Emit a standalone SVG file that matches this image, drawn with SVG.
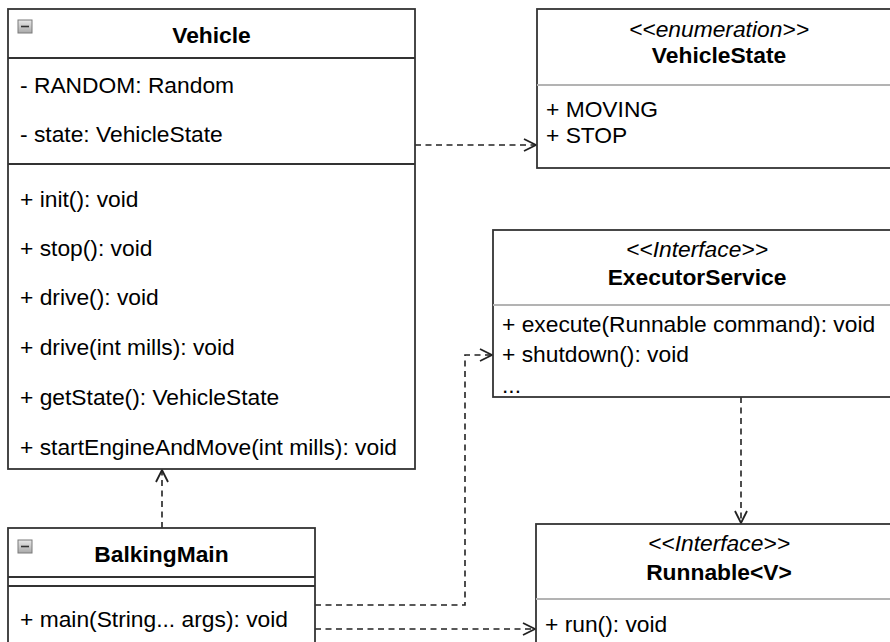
<svg xmlns="http://www.w3.org/2000/svg" xmlns:xlink="http://www.w3.org/1999/xlink" width="890" height="642" viewBox="0 0 890 642">
<defs>
<style>
.box{fill:#ffffff;stroke:#333333;stroke-width:1.8}
.sep{stroke:#333333;stroke-width:1.8}
.lsep{stroke:#b3b3b3;stroke-width:1.8}
.t{font-family:"Liberation Sans",Arial,Helvetica,sans-serif;font-size:22.8px;fill:#000000}
.b{font-weight:bold;text-anchor:middle}
.i{font-style:italic;text-anchor:middle}
.edge{fill:none;stroke:#222222;stroke-width:1.6;stroke-dasharray:6 4.5}
</style>
<linearGradient id="ig" x1="0" y1="0" x2="0" y2="1">
<stop offset="0" stop-color="#e8e8e8"/>
<stop offset="1" stop-color="#a9a9a9"/>
</linearGradient>
<marker id="open" viewBox="0 0 14 14" refX="13" refY="7" markerWidth="14" markerHeight="14" markerUnits="userSpaceOnUse" orient="auto">
<path d="M1,1 L13,7 L1,13" fill="none" stroke="#222222" stroke-width="1.8"/>
</marker>
<g id="icon">
<rect x="0" y="0" width="14" height="13" fill="url(#ig)" stroke="#7a7a7a" stroke-width="1"/>
<line x1="3" y1="6.5" x2="11" y2="6.5" stroke="#333333" stroke-width="1.6"/>
</g>
</defs>
<rect x="0" y="0" width="890" height="642" fill="#ffffff"/>

<g id="edges">
<path class="edge" d="M415,145 L536,145" marker-end="url(#open)"/>
<path class="edge" d="M162,528 L162,470" marker-end="url(#open)"/>
<path class="edge" d="M315,605 L465,605 L465,355 L492,355" marker-end="url(#open)"/>
<path class="edge" d="M315,629 L535,629" marker-end="url(#open)"/>
<path class="edge" d="M741,397 L741,523" marker-end="url(#open)"/>
</g>

<g id="Vehicle">
<rect class="box" x="8" y="9" width="407" height="460"/>
<line class="sep" x1="8" y1="58" x2="415" y2="58"/>
<line class="sep" x1="8" y1="164" x2="415" y2="164"/>
<use xlink:href="#icon" x="18" y="20"/>
<text class="t b" x="211.5" y="43">Vehicle</text>
<text class="t" x="20" y="93">- RANDOM: Random</text>
<text class="t" x="20" y="142">- state: VehicleState</text>
<text class="t" x="20" y="207">+ init(): void</text>
<text class="t" x="20" y="256">+ stop(): void</text>
<text class="t" x="20" y="305">+ drive(): void</text>
<text class="t" x="20" y="355">+ drive(int mills): void</text>
<text class="t" x="20" y="405">+ getState(): VehicleState</text>
<text class="t" x="20" y="455">+ startEngineAndMove(int mills): void</text>
</g>

<g id="VehicleState">
<rect class="box" x="537" y="9" width="364" height="159"/>
<line class="lsep" x1="537" y1="85" x2="901" y2="85"/>
<text class="t i" x="719" y="37">&lt;&lt;enumeration&gt;&gt;</text>
<text class="t b" x="719" y="63">VehicleState</text>
<text class="t" x="546" y="117">+ MOVING</text>
<text class="t" x="546" y="143">+ STOP</text>
</g>

<g id="ExecutorService">
<rect class="box" x="493" y="230" width="408" height="167"/>
<line class="lsep" x1="493" y1="305" x2="901" y2="305"/>
<text class="t i" x="697" y="257">&lt;&lt;Interface&gt;&gt;</text>
<text class="t b" x="697" y="285">ExecutorService</text>
<text class="t" x="502" y="332">+ execute(Runnable command): void</text>
<text class="t" x="502" y="362">+ shutdown(): void</text>
<text class="t" x="502" y="393">...</text>
</g>

<g id="Runnable">
<rect class="box" x="536" y="524" width="365" height="130"/>
<line class="lsep" x1="536" y1="599" x2="901" y2="599"/>
<text class="t i" x="719" y="551">&lt;&lt;Interface&gt;&gt;</text>
<text class="t b" x="719" y="580">Runnable&lt;V&gt;</text>
<text class="t" x="545" y="632">+ run(): void</text>
</g>

<g id="BalkingMain">
<rect class="box" x="8" y="528" width="307" height="126"/>
<line class="sep" x1="8" y1="577" x2="315" y2="577"/>
<line class="sep" x1="8" y1="586" x2="315" y2="586"/>
<use xlink:href="#icon" x="18" y="540"/>
<text class="t b" x="161.5" y="562">BalkingMain</text>
<text class="t" x="20" y="627">+ main(String... args): void</text>
</g>
</svg>
